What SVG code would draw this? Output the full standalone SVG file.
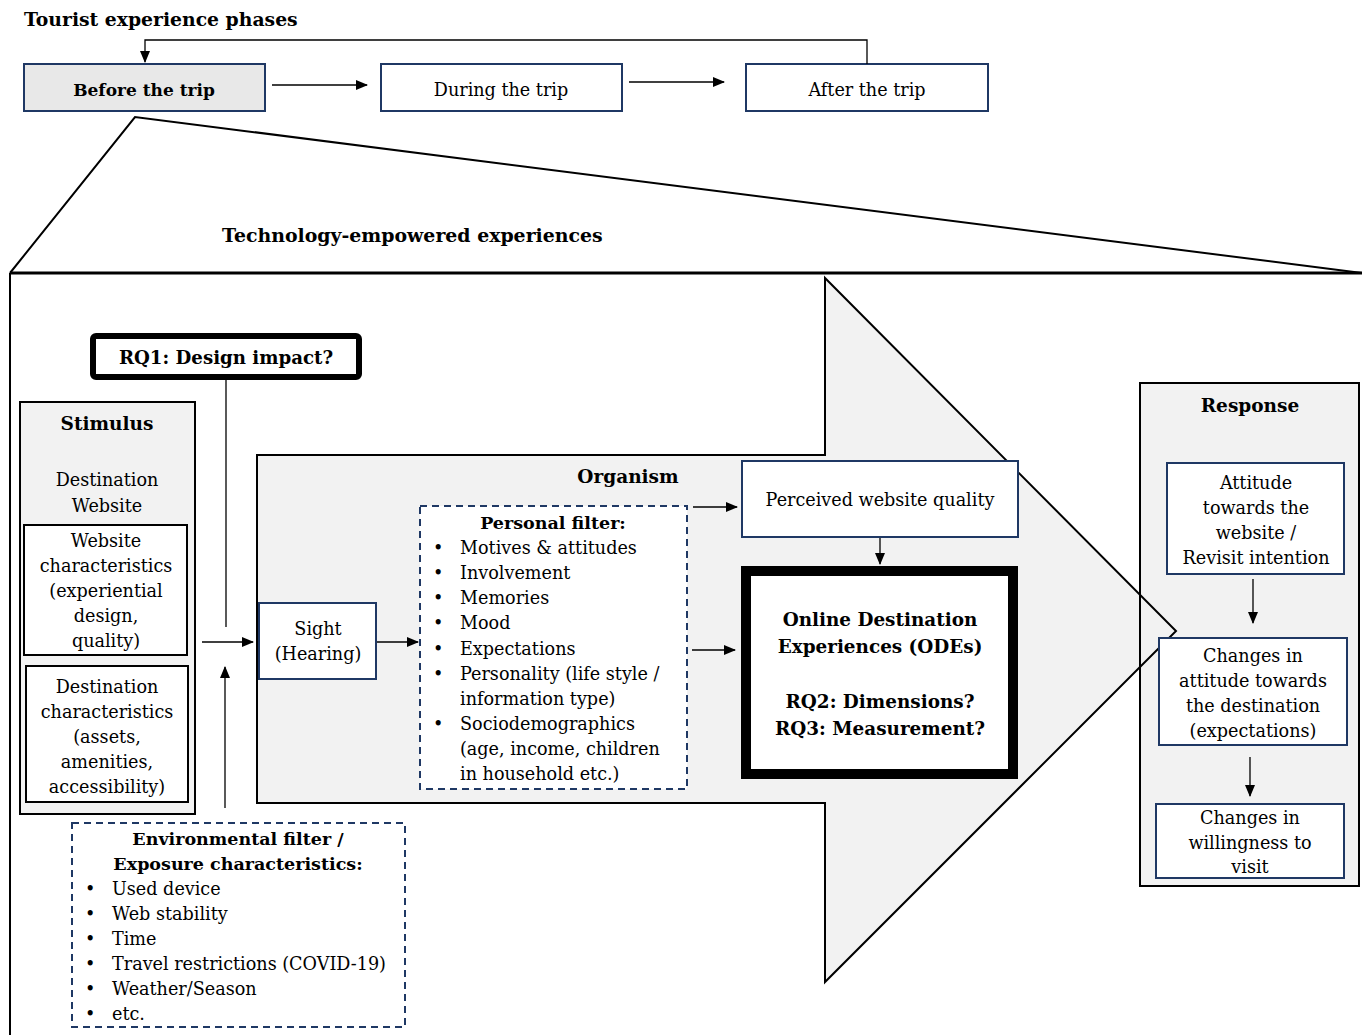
<svg xmlns="http://www.w3.org/2000/svg" width="1362" height="1035" viewBox="0 0 1362 1035">
<defs>
<marker id="ah" markerWidth="12" markerHeight="10" refX="11" refY="5" orient="auto" markerUnits="userSpaceOnUse">
<path d="M0,0 L12,5 L0,10 Z" fill="#000"/>
</marker>
<style>
text{font-family:"DejaVu Serif","Liberation Serif",serif;fill:#000;font-size:17.6px}
.b{font-weight:bold}
.c{text-anchor:middle}
.h{font-size:18.5px}
.navy{fill:#fff;stroke:#1f3864;stroke-width:2}
.grey{fill:#f2f2f2;stroke:#000;stroke-width:2}
.dash{fill:#fff;stroke:#1f3864;stroke-width:2;stroke-dasharray:7,5}
.ln{stroke:#000;stroke-width:1.3;fill:none}
.arr{stroke:#000;stroke-width:1.3;fill:none;marker-end:url(#ah)}
</style>
</defs>
<rect width="1362" height="1035" fill="#fff"/>

<g id="phases-title"><text x="24" y="26" class="b" style="font-size:18.8px">Tourist experience phases</text></g>
<g id="before"><rect x="24" y="64" width="241" height="47" fill="#e8e8e8" stroke="#1f3864" stroke-width="2"/><text x="144" y="96" class="b c" style="font-size:17px">Before the trip</text></g>
<g id="during"><rect x="381" y="64" width="241" height="47" class="navy"/><text x="501" y="96" class="c">During the trip</text></g>
<g id="after"><rect x="746" y="64" width="242" height="47" class="navy"/><text x="867" y="96" class="c">After the trip</text></g>

<g id="frame">
<path d="M10,273 L135,117 L1362,273" class="ln" style="stroke-width:2"/>
<line x1="10" y1="273" x2="1362" y2="273" stroke="#000" stroke-width="3"/>
<line x1="10" y1="273" x2="10" y2="1035" stroke="#000" stroke-width="2"/>
<text x="222" y="242" class="b" style="font-size:18.9px">Technology-empowered experiences</text>
</g>

<g id="response-bg"><rect x="1140" y="383" width="219" height="503" fill="#f2f2f2"/></g>
<g id="organism">
<polygon points="257,455 825,455 825,278 1176,631 825,982 825,803 257,803" fill="#f2f2f2" stroke="#000" stroke-width="2"/>
<text x="628" y="483" class="b c h">Organism</text>
</g>
<g id="response"><rect x="1140" y="383" width="219" height="503" fill="none" stroke="#000" stroke-width="2"/>
<text x="1250" y="412" class="b c h">Response</text></g>

<g id="connectors">
<path d="M867,64 V40 H145 V62" class="arr"/>
<line x1="272" y1="85" x2="367" y2="85" class="arr"/>
<line x1="629" y1="82" x2="724" y2="82" class="arr"/>
<line x1="226" y1="380" x2="226" y2="627" class="ln"/>
<line x1="202" y1="642" x2="253" y2="642" class="arr"/>
<line x1="225" y1="808" x2="225" y2="667" class="arr"/>
<line x1="373" y1="642" x2="418" y2="642" class="arr"/>
<line x1="693" y1="507" x2="737" y2="507" class="arr"/>
<line x1="692" y1="650" x2="735" y2="650" class="arr"/>
<line x1="880" y1="537" x2="880" y2="564" class="arr"/>
<line x1="1253" y1="579" x2="1253" y2="623" class="arr"/>
<line x1="1250" y1="757" x2="1250" y2="796" class="arr"/>
</g>

<g id="rq1"><rect x="93" y="336" width="266" height="41" rx="3" fill="#fff" stroke="#000" stroke-width="6"/><text x="226" y="364" class="b c" style="font-size:18.2px">RQ1: Design impact?</text></g>

<g id="stimulus">
<rect x="20" y="402" width="175" height="412" class="grey"/>
<text x="107" y="430" class="b c h">Stimulus</text>
<text x="107" y="486" class="c">Destination</text>
<text x="107" y="512" class="c">Website</text>
</g>
<g id="website-char">
<rect x="24" y="525" width="163" height="130" fill="#fff" stroke="#000" stroke-width="2"/>
<text class="c"><tspan x="106" y="547">Website</tspan><tspan x="106" y="572">characteristics</tspan><tspan x="106" y="597">(experiential</tspan><tspan x="106" y="622">design,</tspan><tspan x="106" y="647">quality)</tspan></text>
</g>
<g id="destination-char">
<rect x="26" y="666" width="162" height="136" fill="#fff" stroke="#000" stroke-width="2"/>
<text class="c"><tspan x="107" y="693">Destination</tspan><tspan x="107" y="718">characteristics</tspan><tspan x="107" y="743">(assets,</tspan><tspan x="107" y="768">amenities,</tspan><tspan x="107" y="793">accessibility)</tspan></text>
</g>

<g id="sight"><rect x="259" y="603" width="117" height="76" class="navy"/>
<text class="c"><tspan x="318" y="635">Sight</tspan><tspan x="318" y="660">(Hearing)</tspan></text></g>

<g id="personal-filter">
<rect x="420" y="506" width="267" height="283" class="dash"/>
<text x="553" y="529" class="b c" style="font-size:17.5px">Personal filter:</text>
<text x="433" y="554">•</text><text x="460" y="554">Motives &amp; attitudes</text>
<text x="433" y="579">•</text><text x="460" y="579">Involvement</text>
<text x="433" y="604">•</text><text x="460" y="604">Memories</text>
<text x="433" y="629">•</text><text x="460" y="629">Mood</text>
<text x="433" y="655">•</text><text x="460" y="655">Expectations</text>
<text x="433" y="680">•</text><text x="460" y="680">Personality (life style /</text>
<text x="460" y="705">information type)</text>
<text x="433" y="730">•</text><text x="460" y="730">Sociodemographics</text>
<text x="460" y="755">(age, income, children</text>
<text x="460" y="780">in household etc.)</text>
</g>

<g id="perceived"><rect x="742" y="461" width="276" height="76" class="navy"/><text x="880" y="506" class="c">Perceived website quality</text></g>

<g id="ode">
<rect x="746" y="571" width="267" height="203" fill="#fff" stroke="#000" stroke-width="10"/>
<text class="b c" style="font-size:18.4px"><tspan x="880" y="626">Online Destination</tspan><tspan x="880" y="653">Experiences (ODEs)</tspan><tspan x="880" y="708">RQ2: Dimensions?</tspan><tspan x="880" y="735">RQ3: Measurement?</tspan></text>
</g>

<g id="attitude-website"><rect x="1167" y="463" width="177" height="111" class="navy"/>
<text class="c"><tspan x="1256" y="489">Attitude</tspan><tspan x="1256" y="514">towards the</tspan><tspan x="1256" y="539">website /</tspan><tspan x="1256" y="564">Revisit intention</tspan></text></g>
<g id="attitude-destination"><rect x="1159" y="638" width="188" height="107" class="navy"/>
<text class="c"><tspan x="1253" y="662">Changes in</tspan><tspan x="1253" y="687">attitude towards</tspan><tspan x="1253" y="712">the destination</tspan><tspan x="1253" y="737">(expectations)</tspan></text></g>
<g id="willingness"><rect x="1156" y="804" width="188" height="74" class="navy"/>
<text class="c"><tspan x="1250" y="824">Changes in</tspan><tspan x="1250" y="849">willingness to</tspan><tspan x="1250" y="873">visit</tspan></text></g>

<g id="environmental-filter">
<rect x="72" y="823" width="333" height="204" class="dash"/>
<text class="b c" style="font-size:17.5px"><tspan x="238" y="845">Environmental filter /</tspan><tspan x="238" y="870">Exposure characteristics:</tspan></text>
<text x="85" y="895">•</text><text x="112" y="895">Used device</text>
<text x="85" y="920">•</text><text x="112" y="920">Web stability</text>
<text x="85" y="945">•</text><text x="112" y="945">Time</text>
<text x="85" y="970">•</text><text x="112" y="970">Travel restrictions (COVID-19)</text>
<text x="85" y="995">•</text><text x="112" y="995">Weather/Season</text>
<text x="85" y="1020">•</text><text x="112" y="1020">etc.</text>
</g>
</svg>
